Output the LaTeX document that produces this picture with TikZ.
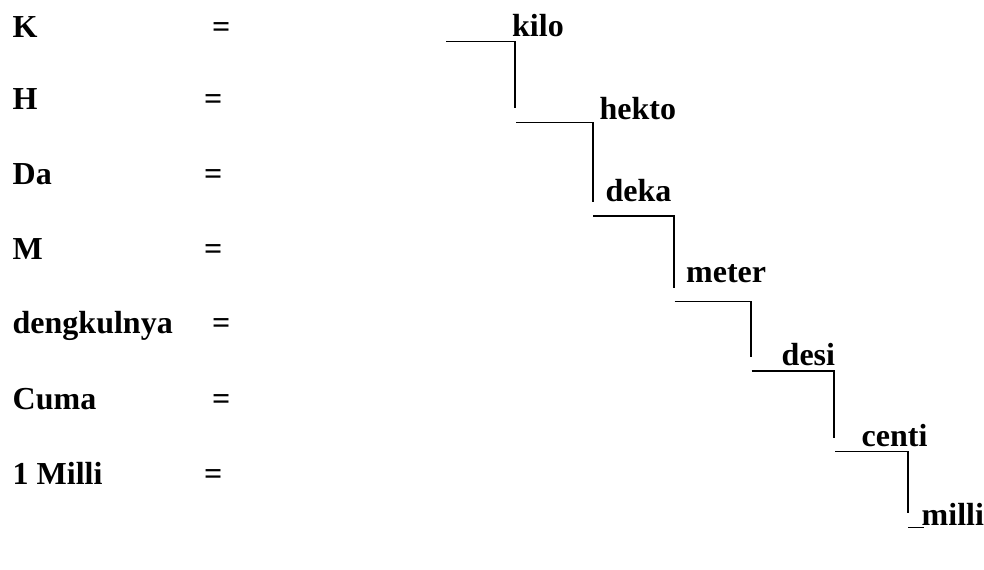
\documentclass[tikz,border=0pt]{standalone}
\usepackage{fontspec}
\setmainfont{Liberation Serif}
\begin{document}
\begin{tikzpicture}[x=1bp,y=-1bp,
  lbl/.style={anchor=base west,inner sep=0pt,font=\fontsize{32bp}{32bp}\selectfont\bfseries},
  stair/.style={line width=1.5bp,line cap=butt,line join=miter}]
\useasboundingbox (0,0) rectangle (984,570);
% left column
\node[lbl] (k)  at (12.5,37.3) {K};
\node[lbl] (h)  at (12.5,110) {H};
\node[lbl] (da) at (12.5,185) {Da};
\node[lbl] (m)  at (12.5,259.3) {M};
\node[lbl] (dg) at (12.5,333.3) {dengkulnya};
\node[lbl] (cu) at (12.5,409.3) {Cuma};
\node[lbl] (mi) at (12.5,484) {1 Milli};
\node[lbl] (e1) at (212,37.3) {=};
\node[lbl] (e2) at (204,110) {=};
\node[lbl] (e3) at (204,185) {=};
\node[lbl] (e4) at (204,259.3) {=};
\node[lbl] (e5) at (212,333.3) {=};
\node[lbl] (e6) at (212,409.3) {=};
\node[lbl] (e7) at (204,484) {=};
% staircase labels
\node[lbl] (kilo)  at (512,36.7) {kilo};
\node[lbl] (hekto) at (599.5,119.3) {hekto};
\node[lbl] (deka)  at (605.5,201.7) {deka};
\node[lbl] (meter) at (686,282.7) {meter};
\node[lbl] (desi)  at (781.5,365) {desi};
\node[lbl] (centi) at (861.5,446.7) {centi};
\node[lbl] (milli) at (921.5,525) {milli};
% staircase lines
\draw[stair] (446,41.7) -- (515,41.7) -- (515,107.7);
\draw[stair] (516,122.3) -- (593,122.3) -- (593,201.7);
\draw[stair] (593,216) -- (674,216) -- (674,288);
\draw[stair] (674.7,301.7) -- (751,301.7) -- (751,356.7);
\draw[stair] (751.7,371) -- (834,371) -- (834,437.7);
\draw[stair] (835,451.7) -- (908,451.7) -- (908,513);
\draw[stair] (908,527.7) -- (924,527.7);
\end{tikzpicture}
\end{document}
